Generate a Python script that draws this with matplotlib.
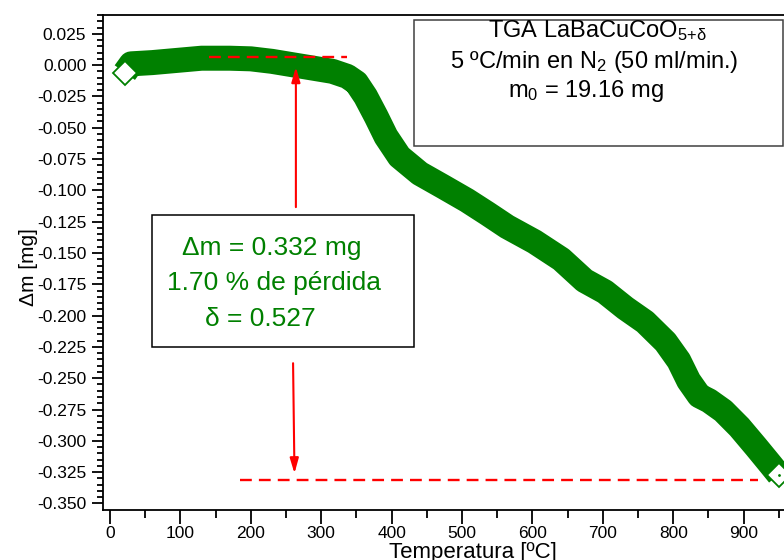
import numpy as np
import matplotlib
matplotlib.use("Agg")
import matplotlib.pyplot as plt
from matplotlib.ticker import MultipleLocator, FuncFormatter
from matplotlib.patches import Rectangle

plt.rcParams['font.family'] = ['Liberation Sans', 'DejaVu Sans']
plt.rcParams['mathtext.fontset'] = 'custom'
plt.rcParams['mathtext.rm'] = 'Liberation Sans'
plt.rcParams['mathtext.it'] = 'Liberation Sans:italic'
plt.rcParams['mathtext.bf'] = 'Liberation Sans:bold'
plt.rcParams['axes.unicode_minus'] = False

# TGA curve (temperature in ºC, mass change in mg)
temp_c = [21, 30, 60, 100, 130, 170, 200, 230, 273, 316, 337, 350, 363, 378,
          392, 411, 440, 473, 507, 536, 564, 603, 641, 674, 703, 732, 760,
          789, 808, 822, 837, 851, 871, 894, 918, 937, 950]
dm_mg = [-0.006, 0.001, 0.002, 0.004, 0.0055, 0.0055, 0.005, 0.003, -0.001,
         -0.005, -0.009, -0.014, -0.025, -0.041, -0.057, -0.073, -0.0865,
         -0.097, -0.108, -0.1185, -0.129, -0.141, -0.155, -0.172, -0.181,
         -0.194, -0.205, -0.221, -0.236, -0.252, -0.264, -0.268, -0.276,
         -0.289, -0.305, -0.318, -0.327]

x_major = [0, 100, 200, 300, 400, 500, 600, 700, 800, 900]
x_minor = [50, 150, 250, 350, 450, 550, 650, 750, 850, 950]

# red reference lines and arrows
ref_top_x = [141, 337]
ref_top_y = [0.0065, 0.0065]
ref_bot_x = [184, 920]
ref_bot_y = [-0.331, -0.331]
arrow_up = [(264, -0.1134), (264, -0.0015)]
arrow_down = [(260, -0.238), (262, -0.326)]

green = '#008000'
W, H = 784, 560


def fpx(x, y):
    # pixel position -> figure fraction
    return x / W, 1 - y / H


fig = plt.figure(figsize=(7.84, 5.6), dpi=100)
ax = fig.add_axes([103 / W, 1 - 509.5 / H, 711 / W, 494.5 / H])

ax.plot(temp_c, dm_mg, color=green, lw=18, solid_joinstyle='round',
        solid_capstyle='butt', zorder=3)
ax.plot(temp_c[0], dm_mg[0], 'D', ms=12, mfc='white', mec=green, mew=1.3, zorder=4)
ax.plot(temp_c[-1], dm_mg[-1], 'D', ms=12, mfc='white', mec=green, mew=1.3, zorder=4)
ax.plot(temp_c[-1], dm_mg[-1], '.', ms=2, color=green, zorder=5)

ax.plot(ref_top_x, ref_top_y, color='red', lw=1.7, ls=(0, (5, 3)), zorder=5)
ax.plot(ref_bot_x, ref_bot_y, color='red', lw=1.7, ls=(0, (5, 3)), zorder=5)
for (x0, y0), (x1, y1) in [arrow_up, arrow_down]:
    ax.annotate('', xy=(x1, y1), xytext=(x0, y0),
                arrowprops=dict(arrowstyle='-|>,head_length=0.45,head_width=0.13',
                                color='red', lw=1.5, mutation_scale=20,
                                shrinkA=0, shrinkB=0), zorder=6)

ax.set_xlim(-10, 1000)
ax.set_ylim(-0.3548, 0.040)
ax.set_xticks(x_major)
ax.set_xticks(x_minor, minor=True)
ax.yaxis.set_major_locator(MultipleLocator(0.025))
ax.yaxis.set_minor_locator(MultipleLocator(0.005))
ax.yaxis.set_major_formatter(FuncFormatter(lambda v, _: f"{round(v, 3) + 0.0:.3f}"))
ax.tick_params(which='both', direction='out', top=False, right=False,
               labelsize=12.5, width=1.3, colors='black')
ax.tick_params(axis='y', which='major', length=8, pad=4)
ax.tick_params(axis='y', which='minor', length=4)
ax.tick_params(axis='x', which='major', length=10, pad=2)
ax.tick_params(axis='x', which='minor', length=6)
for s in ax.spines.values():
    s.set_linewidth(1.3)

ax.set_xlabel('Temperatura [ºC]', fontsize=16)
ax.xaxis.set_label_coords((473 - 103) / 711, (509.5 - 542) / 494.5)
ax.set_ylabel('Δm [mg]', fontsize=15)
ax.yaxis.set_label_coords((38 - 103) / 711, (509.5 - 267.5) / 494.5)

# info box (top right)
x0, y0 = fpx(414, 146)
fig.add_artist(Rectangle((x0, y0), (783 - 414) / W, 126 / H, transform=fig.transFigure,
                         fill=False, edgecolor='#404040', lw=1.1))
fig.text(*fpx(488, 37), r'TGA LaBaCuCoO$_{\mathrm{5{+}\delta}}$', fontsize=17, va='baseline')
fig.text(*fpx(450, 68), r'5 ºC/min en N$_{\mathrm{2}}$ (50 ml/min.)', fontsize=17, va='baseline')
fig.text(*fpx(508, 97), r'm$_{\mathrm{0}}$ = 19.16 mg', fontsize=17, va='baseline')

# result box (green)
x0, y0 = fpx(152, 347)
fig.add_artist(Rectangle((x0, y0), (414 - 152) / W, 132 / H, transform=fig.transFigure,
                         facecolor='white', edgecolor='black', lw=1.1, zorder=4))
fig.text(*fpx(182, 255), 'Δm = 0.332 mg', fontsize=19, color=green, va='baseline', zorder=5)
fig.text(*fpx(167, 290), '1.70 % de pérdida', fontsize=19, color=green, va='baseline', zorder=5)
fig.text(*fpx(205, 326), 'δ = 0.527', fontsize=19, color=green, va='baseline', zorder=5)

fig.savefig('out.png', dpi=100)
